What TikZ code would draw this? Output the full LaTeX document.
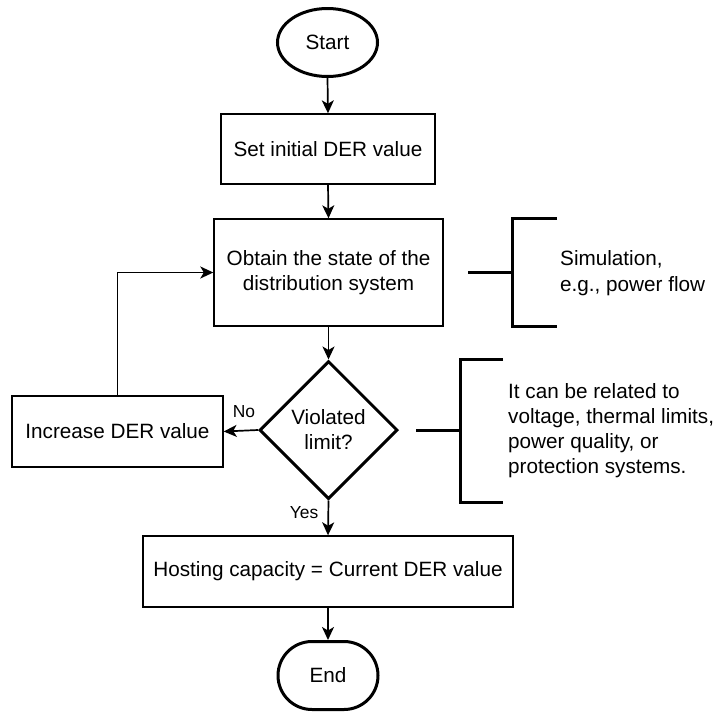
\documentclass[tikz,border=0pt]{standalone}
\usepackage{fontspec}
\setmainfont{Liberation Sans}
\usetikzlibrary{shapes.geometric,arrows.meta}
\begin{document}
\begin{tikzpicture}[x=1pt,y=-1pt,
  every node/.style={font=\fontsize{20.7}{25}\selectfont, inner sep=0pt, align=center},
  procbox/.style={draw, line width=1.4pt, rectangle},
  terminal/.style={draw, line width=3pt, minimum width=100pt, minimum height=68pt},
  decision/.style={draw, line width=3pt, diamond, aspect=1, minimum width=138pt, minimum height=138pt},
  flow/.style={line width=1.7pt, -{Stealth[length=13pt,width=12pt,inset=3.5pt]}},
  brack/.style={line width=3pt},
  edgelabel/.style={font=\fontsize{17.4}{20}\selectfont}
]
\useasboundingbox (0,0) rectangle (718,713);
\fill[white] (0,0) rectangle (718,713);

\node[terminal, ellipse] (start) at (327.5,42.5) {Start};
\node[procbox, minimum width=214pt, minimum height=70pt] (init) at (328,149) {Set initial DER value};
\node[procbox, minimum width=229pt, minimum height=107pt] (obtain) at (328.5,272.5) {Obtain the state of the\\distribution system};
\node[decision] (dec) at (328.5,430) {Violated\\limit?};
\node[procbox, minimum width=211pt, minimum height=71pt] (inc) at (117.5,431.5) {Increase DER value};
\node[procbox, minimum width=370pt, minimum height=71pt] (host) at (328,571.5) {Hosting capacity = Current DER value};
\node[terminal, rectangle, rounded corners=34pt] (end) at (328,675.5) {End};

\draw[flow] (start.south) -- (init.north);
\draw[flow] (init.south) -- (obtain.north);
\draw[flow] (obtain.south) -- (dec.north);
\draw[flow] (dec.west) -- (inc.east);
\draw[flow] (inc.north) |- (obtain.west);
\draw[flow] (dec.south) -- (host.north);
\draw[flow] (host.south) -- (end.north);

\node[edgelabel] (nolab) at (244,412) {No};
\node[edgelabel] (yeslab) at (304,513) {Yes};

% annotation bracket 1
\coordinate (b1s) at (468,272);
\coordinate (b1m) at (512,272);
\draw[brack] (b1s) -- (b1m);
\draw[brack] (557,218) -- (512,218) -- (512,326) -- (557,326);
\node[anchor=west, align=left, font=\fontsize{20.7}{26}\selectfont] (simtext) at (560,273) {Simulation,\\e.g., power flow};

% annotation bracket 2
\coordinate (b2s) at (416,430);
\coordinate (b2m) at (460,430);
\draw[brack] (b2s) -- (b2m);
\draw[brack] (503,359) -- (460,359) -- (460,502) -- (503,502);
\node[anchor=west, align=left, font=\fontsize{20.7}{25}\selectfont] (limtext) at (508,431) {It can be related to\\voltage, thermal limits,\\power quality, or\\protection systems.};
\end{tikzpicture}
\end{document}
